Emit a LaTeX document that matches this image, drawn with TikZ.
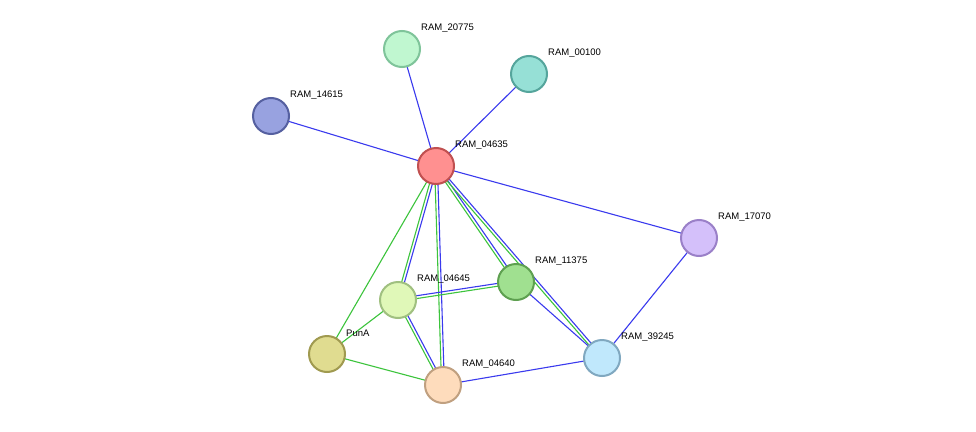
\documentclass[tikz,border=0pt]{standalone}
\usepackage{fontspec}
\setmainfont{Liberation Sans}
\usetikzlibrary{calc}
\definecolor{eb}{HTML}{3A3AEE}
\definecolor{eg}{HTML}{3CC43C}
\tikzset{
 nd/.style={circle,minimum size=36pt,inner sep=0pt,line width=2pt},
 lb/.style={anchor=west,font=\fontsize{9.5pt}{10pt}\selectfont,inner sep=0pt},
 be/.style={eb,line width=1.1pt},
 ge/.style={eg,line width=1.1pt}
}
\newcommand{\dbl}[2]{%
 \draw[be] ($(#1.center)!1.4pt!90:(#2.center)$) -- ($(#2.center)!1.4pt!-90:(#1.center)$);
 \draw[ge] ($(#1.center)!1.4pt!-90:(#2.center)$) -- ($(#2.center)!1.4pt!90:(#1.center)$);}
\begin{document}
\begin{tikzpicture}[x=1pt,y=-1pt]
\useasboundingbox[fill=white] (0,0) rectangle (976,431);
\coordinate (p20775) at (402,49);
\coordinate (p00100) at (529,74);
\coordinate (p14615) at (271,116);
\coordinate (p04635) at (436,166);
\coordinate (p17070) at (699,238);
\coordinate (p11375) at (516,282);
\coordinate (p04645) at (398,300);
\coordinate (pPunA) at (327,354);
\coordinate (p04640) at (443,385);
\coordinate (p39245) at (602,358);
% edges
\draw[be] (p20775) -- (p04635);
\draw[be] (p00100) -- (p04635);
\draw[be] (p14615) -- (p04635);
\draw[be] (p04635) -- (p17070);
\draw[be] (p17070) -- (p39245);
\dbl{p04635}{p11375}
\dbl{p04635}{p39245}
\dbl{p04635}{p04645}
\dbl{p04635}{p04640}
\draw[ge] (p04635) -- (pPunA);
\dbl{p04645}{p11375}
\draw[ge] (p04645) -- (pPunA);
\dbl{p04645}{p04640}
\draw[ge] (pPunA) -- (p04640);
\draw[be] (p04640) -- (p39245);
\draw[be] (p11375) -- (p39245);
% nodes
\node[nd,fill={rgb,255:red,192;green,247;blue,208},draw={rgb,255:red,127;green,196;blue,154}] (n20775) at (p20775) {};
\node[nd,fill={rgb,255:red,150;green,224;blue,214},draw={rgb,255:red,85;green,165;blue,156}] (n00100) at (p00100) {};
\node[nd,fill={rgb,255:red,152;green,162;blue,224},draw={rgb,255:red,85;green,96;blue,160}] (n14615) at (p14615) {};
\node[nd,fill={rgb,255:red,255;green,144;blue,144},draw={rgb,255:red,192;green,80;blue,80}] (n04635) at (p04635) {};
\node[nd,fill={rgb,255:red,212;green,192;blue,250},draw={rgb,255:red,154;green,128;blue,200}] (n17070) at (p17070) {};
\node[nd,fill={rgb,255:red,160;green,224;blue,144},draw={rgb,255:red,94;green,160;blue,80}] (n11375) at (p11375) {};
\node[nd,fill={rgb,255:red,224;green,248;blue,184},draw={rgb,255:red,160;green,192;blue,128}] (n04645) at (p04645) {};
\node[nd,fill={rgb,255:red,224;green,220;blue,144},draw={rgb,255:red,160;green,154;blue,80}] (nPunA) at (pPunA) {};
\node[nd,fill={rgb,255:red,254;green,220;blue,188},draw={rgb,255:red,192;green,160;blue,128}] (n04640) at (p04640) {};
\node[nd,fill={rgb,255:red,192;green,232;blue,252},draw={rgb,255:red,128;green,168;blue,192}] (n39245) at (p39245) {};
% labels
\node[lb] (l20775) at (421,28) {RAM\_20775};
\node[lb] (l00100) at (548,53) {RAM\_00100};
\node[lb] (l14615) at (290,95) {RAM\_14615};
\node[lb] (l04635) at (455,145) {RAM\_04635};
\node[lb] (l17070) at (718,217) {RAM\_17070};
\node[lb] (l11375) at (535,261) {RAM\_11375};
\node[lb] (l04645) at (417,279) {RAM\_04645};
\node[lb] (lPunA) at (346,333) {PunA};
\node[lb] (l04640) at (462,364) {RAM\_04640};
\node[lb] (l39245) at (621,337) {RAM\_39245};
\end{tikzpicture}
\end{document}
